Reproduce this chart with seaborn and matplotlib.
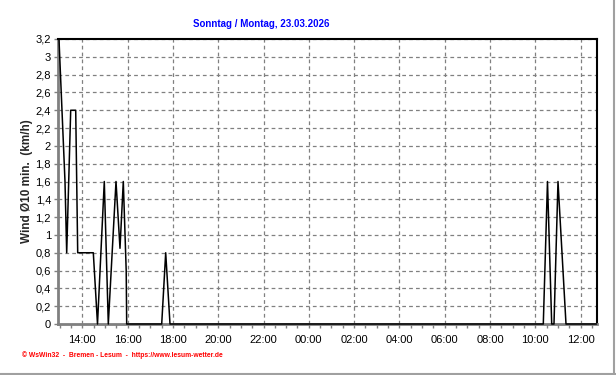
import matplotlib
matplotlib.use("Agg")
import matplotlib.pyplot as plt
from matplotlib.lines import Line2D
from matplotlib.ticker import MultipleLocator, FixedLocator
import seaborn as sns
import pandas as pd

# hours since Sunday 00:00
hours = [12.97, 13.236, 13.311, 13.488, 13.709, 13.797, 14.486, 14.671,
         14.971, 15.148, 15.488, 15.664, 15.810, 15.938, 15.96, 17.506,
         17.682, 17.872, 34.353, 34.538, 34.724, 34.825, 35.002, 35.355, 36.7]
wind = [3.2, 1.6, 0.8, 2.4, 2.4, 0.8, 0.8, 0.0,
        1.6, 0.0, 1.6, 0.85, 1.6, 0.6, 0.0, 0.0,
        0.8, 0.0, 0.0, 1.6, 0.0, 0.0, 1.6, 0.0, 0.0]
xtick_hours = [14, 16, 18, 20, 22, 24, 26, 28, 30, 32, 34, 36]
xtick_labels = ["14:00", "16:00", "18:00", "20:00", "22:00", "00:00",
                "02:00", "04:00", "06:00", "08:00", "10:00", "12:00"]
ytick_vals = [0, 0.2, 0.4, 0.6, 0.8, 1.0, 1.2, 1.4, 1.6, 1.8, 2.0, 2.2,
              2.4, 2.6, 2.8, 3.0, 3.2]
ytick_labels = ["0", "0,2", "0,4", "0,6", "0,8", "1", "1,2", "1,4", "1,6",
                "1,8", "2", "2,2", "2,4", "2,6", "2,8", "3", "3,2"]
title = "Sonntag / Montag, 23.03.2026"
ylabel = "Wind Ø10 min.  (km/h)"
footer = "© WsWin32  -  Bremen - Lesum  -  https://www.lesum-wetter.de"

sns.set_style("white")
plt.rcParams['font.family'] = ['Liberation Sans', 'DejaVu Sans']

W, H = 616, 375
fig = plt.figure(figsize=(W / 100, H / 100), dpi=100)
L, R, T, B = 58, 597, 39, 324
ax = fig.add_axes([L / W, 1 - B / H, (R - L) / W, (B - T) / H])

df = pd.DataFrame({"h": hours, "v": wind})
sns.lineplot(data=df, x="h", y="v", ax=ax, color="black", lw=1.1,
             estimator=None, sort=False, zorder=5, clip_on=False)

x0 = 14 - (82.3 - L) / 22.65
x1 = 14 + (R - 82.3) / 22.65
ax.set_xlim(x0, x1)
ax.set_ylim(0, 3.2)

ax.xaxis.set_major_locator(FixedLocator(xtick_hours))
ax.set_xticklabels(xtick_labels)
ax.xaxis.set_minor_locator(MultipleLocator(0.5))
ax.set_yticks(ytick_vals)
ax.set_yticklabels(ytick_labels)

ax.grid(True, which="major", color="#808080", linestyle=(0, (3, 2.5)), lw=0.9)
ax.tick_params(axis="both", which="both", direction="out", length=3,
               color="#808080", width=1, labelsize=8, pad=2,
               labelcolor="black")
ax.tick_params(axis="x", which="major", pad=5)
ax.tick_params(bottom=True, left=True, which="both")
ax.tick_params(axis="y", which="minor", left=False)

for s in ("left", "bottom"):
    ax.spines[s].set_color("#808080")
    ax.spines[s].set_linewidth(2)
for s in ("top", "right"):
    ax.spines[s].set_color("black")
    ax.spines[s].set_linewidth(1.5)

ax.set_xlabel("")
ax.set_ylabel(ylabel, fontsize=8.5, fontweight="bold", labelpad=2)

fig.text(261 / W, 1 - 24 / H, title, color="#0000ff", fontsize=7,
         fontweight="bold", ha="center", va="center")
fig.text(22 / W, 1 - 355 / H, footer, color="#ff0000", fontsize=4.9,
         fontweight="bold", ha="left", va="center")

fig.add_artist(Line2D([613.5 / W, 613.5 / W], [0, 1], color="#a0a0a0", lw=1.5))
fig.add_artist(Line2D([0, 1], [1 - 373.5 / H, 1 - 373.5 / H], color="#a0a0a0", lw=1.5))

fig.savefig("out.png", dpi=100)
